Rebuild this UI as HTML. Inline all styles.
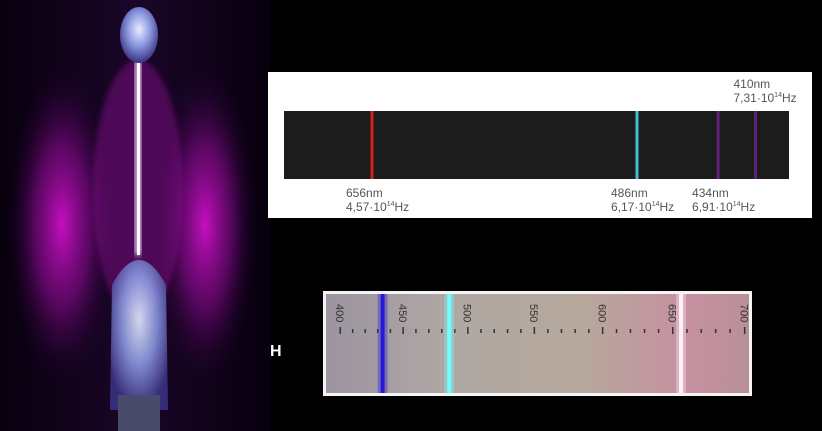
<!DOCTYPE html>
<html><head><meta charset="utf-8">
<style>
html,body{margin:0;padding:0;background:#000;}
#root{position:relative;width:822px;height:431px;overflow:hidden;background:#000;font-family:"Liberation Sans",sans-serif;}
.abs{position:absolute;}
</style></head>
<body>
<div id="root">
  <svg class="abs" style="left:0;top:0" width="270" height="431">
    <defs>
      <radialGradient id="gl" cx="0.5" cy="0.5" r="0.5">
        <stop offset="0" stop-color="#d010c8" stop-opacity="0.95"/>
        <stop offset="0.5" stop-color="#8a0a90" stop-opacity="0.6"/>
        <stop offset="1" stop-color="#200030" stop-opacity="0"/>
      </radialGradient>
      <linearGradient id="bg" x1="0" x2="1">
        <stop offset="0" stop-color="#08000e"/>
        <stop offset="0.5" stop-color="#1a0628"/>
        <stop offset="1" stop-color="#08000e"/>
      </linearGradient>
      <radialGradient id="bulb" cx="0.5" cy="0.4" r="0.6">
        <stop offset="0" stop-color="#e8ecff"/>
        <stop offset="0.5" stop-color="#8a98e0"/>
        <stop offset="1" stop-color="#3a3080"/>
      </radialGradient>
      <filter id="blur"><feGaussianBlur stdDeviation="3"/></filter>
    </defs>
    <rect width="270" height="431" fill="url(#bg)"/>
    <ellipse cx="62" cy="225" rx="55" ry="160" fill="url(#gl)"/>
    <ellipse cx="205" cy="225" rx="52" ry="160" fill="url(#gl)"/>
    <ellipse cx="138" cy="190" rx="45" ry="130" fill="#7a1080" opacity="0.55" filter="url(#blur)"/>
    <rect x="135" y="60" width="6" height="195" fill="#f0d8ff" filter="url(#blur)"/>
    <rect x="137" y="60" width="3" height="195" fill="#ffffff"/>
    <ellipse cx="139" cy="35" rx="19" ry="28" fill="url(#bulb)"/>
    <path d="M112,285 Q139,235 166,285 L168,410 L110,410 Z" fill="url(#bulb)" opacity="0.9"/>
    <rect x="118" y="395" width="42" height="36" fill="#4a4a6a"/>
  </svg>

  <div class="abs" style="left:268px;top:72px;width:544px;height:146px;background:#fff;"></div>
  <svg class="abs" id="spec" style="left:0;top:0" width="822" height="431"></svg>

  <div class="abs" style="left:323px;top:291px;width:429px;height:105px;background:#f4f4f4;"></div>
  <svg class="abs" id="photo" style="left:326px;top:294px" width="423" height="99"></svg>

  <div class="abs" style="left:270px;top:343px;color:#fff;font-size:16px;font-weight:bold;">H</div>
</div>
<script>
const wavelengths=[656,486,434,410];
const freqs=["4,57","6,17","6,91","7,31"];
const lineColors=["#d02020","#40c0d0","#602080","#602080"];
const scaleTicks=[400,450,500,550,600,650,700];
const photoLines=[434,486,656];
const photoColors=["#2818d8","#70ffff","#fff0f8"];

const NS="http://www.w3.org/2000/svg";
function mk(p,t,a){const e=document.createElementNS(NS,t);for(const k in a)e.setAttribute(k,a[k]);p.appendChild(e);return e;}
function xS(w){return 372+(656-w)*(637-372)/(656-486);}
const spec=document.getElementById('spec');
const band=mk(spec,'rect',{x:284,y:111,width:505,height:68,fill:'#1c1c1c'});


wavelengths.forEach((w,i)=>{
  const l=mk(spec,'rect',{x:xS(w)-1.5,y:111,width:3,height:68,fill:lineColors[i]});
  
  
  const top=(w===410);
  const tx=top?xS(w)-22:xS(w)-26;
  const ty=top?88:197;
  const t1=mk(spec,'text',{x:tx,y:ty,'font-size':12,fill:'#555','font-family':'Liberation Sans, sans-serif'});
  t1.textContent=w+'nm';
  
  
  const t2=mk(spec,'text',{x:tx,y:ty+14,'font-size':12,fill:'#555','font-family':'Liberation Sans, sans-serif'});
  t2.textContent=freqs[i]+'·10';
  const s=mk(t2,'tspan',{'font-size':7,dy:-5});s.textContent='14';
  const h=mk(t2,'tspan',{dy:5});h.textContent='Hz';
  
  
});
const ph=document.getElementById('photo');
const d=mk(ph,'defs',{});
const g=mk(d,'linearGradient',{id:'pg',x1:0,x2:1});
[[0,'#9c94a0'],[0.3,'#b0a8a4'],[0.6,'#b6a89c'],[0.85,'#c690a0'],[1,'#b89098']].forEach(s=>mk(g,'stop',{offset:s[0],'stop-color':s[1]}));
mk(ph,'rect',{width:423,height:99,fill:'url(#pg)'});
// nonlinear prism scale
function xP(w){const u=w-400;return 14+1.24*u+0.00036*u*u;}
scaleTicks.forEach(w=>{
  const t=mk(ph,'text',{x:0,y:0,'font-size':11,fill:'#333','font-family':'Liberation Sans, sans-serif',transform:`translate(${xP(w)-4},${10}) rotate(90)`});
  t.textContent=w;
  
  
});
for(let w=400;w<=700;w+=10){
  const tk=mk(ph,'rect',{x:xP(w)-0.5,y:w%50===0?33:35,width:1.5,height:w%50===0?7:4,fill:'#333'});
  
  
}
photoLines.forEach((w,i)=>{
  const glow=mk(ph,'rect',{x:xP(w)-5,y:0,width:10,height:99,fill:photoColors[i],opacity:0.35});
  
  
  const l=mk(ph,'rect',{x:xP(w)-2,y:0,width:4,height:99,fill:photoColors[i]});
  
  
});
</script>
</body></html>
